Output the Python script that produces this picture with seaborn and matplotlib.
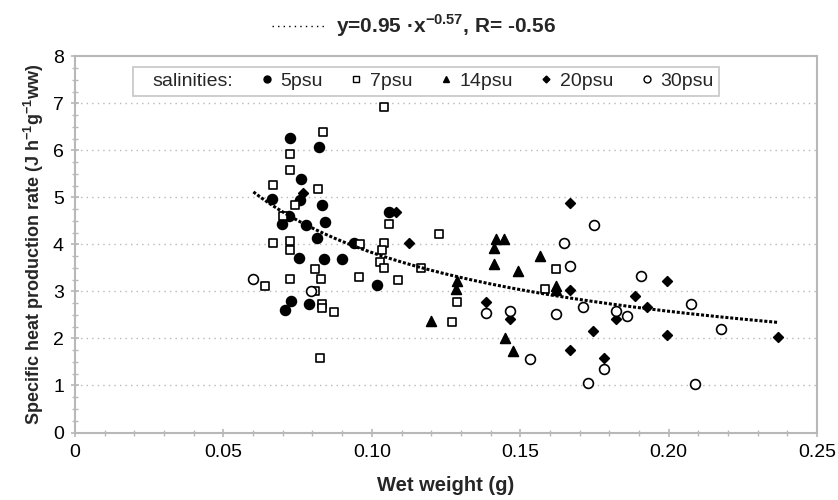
import numpy as np
import pandas as pd
import matplotlib
matplotlib.use("Agg")
import matplotlib.pyplot as plt
from matplotlib.lines import Line2D
from matplotlib.ticker import MultipleLocator
import seaborn as sns

# wet weight (g) and specific heat production rate (J h-1 g-1 ww), per salinity
w_5psu = [0.0725, 0.0823, 0.0762, 0.0663, 0.0758, 0.0831, 0.0722, 0.0698, 0.0779,
          0.0843, 0.1058, 0.0816, 0.0940, 0.0756, 0.0840, 0.0900, 0.1018, 0.0727,
          0.0709, 0.0788]
r_5psu = [6.26, 6.07, 5.40, 4.96, 4.94, 4.83, 4.61, 4.44, 4.41,
          4.47, 4.68, 4.13, 4.03, 3.72, 3.68, 3.68, 3.13, 2.80,
          2.60, 2.74]

w_7psu = [0.1041, 0.0834, 0.0725, 0.0725, 0.0666, 0.0820, 0.0741, 0.0702, 0.1057,
          0.1226, 0.0668, 0.0725, 0.0725, 0.0961, 0.1042, 0.1034, 0.1026, 0.1042,
          0.0807, 0.1165, 0.0725, 0.0828, 0.0958, 0.1089, 0.0809, 0.0831, 0.0831,
          0.0873, 0.1287, 0.1271, 0.0827, 0.0641, 0.1622, 0.1583]
r_7psu = [6.92, 6.38, 5.93, 5.58, 5.27, 5.17, 4.83, 4.61, 4.44,
          4.21, 4.02, 4.07, 3.89, 4.00, 4.02, 3.89, 3.62, 3.49,
          3.48, 3.50, 3.27, 3.27, 3.30, 3.24, 3.00, 2.74, 2.64,
          2.56, 2.77, 2.35, 1.59, 3.12, 3.48, 3.05]

w_14psu = [0.1286, 0.1282, 0.1199, 0.1418, 0.1447, 0.1413, 0.1410, 0.1568, 0.1494,
           0.1622, 0.1622, 0.1449, 0.1475]
r_14psu = [3.22, 3.05, 2.37, 4.12, 4.12, 3.93, 3.58, 3.75, 3.43,
           3.12, 3.03, 2.00, 1.73]

w_20psu = [0.0769, 0.1082, 0.1125, 0.1668, 0.1669, 0.1888, 0.1927, 0.1383, 0.1467,
           0.1821, 0.1744, 0.1669, 0.1783, 0.1993, 0.1993, 0.2368]
r_20psu = [5.09, 4.68, 4.02, 4.89, 3.03, 2.90, 2.66, 2.77, 2.42,
           2.42, 2.16, 1.76, 1.59, 3.23, 2.07, 2.02]

w_30psu = [0.0601, 0.0795, 0.1648, 0.1750, 0.1667, 0.1907, 0.1383, 0.1464, 0.1619,
           0.1710, 0.1822, 0.1859, 0.1533, 0.1783, 0.1730, 0.2075, 0.2178, 0.2090]
r_30psu = [3.26, 3.00, 4.03, 4.41, 3.55, 3.32, 2.54, 2.59, 2.52,
           2.66, 2.58, 2.47, 1.57, 1.34, 1.05, 2.73, 2.21, 1.04]

salinities = ["5psu", "7psu", "14psu", "20psu", "30psu"]

# power fit drawn on the chart (y = a * x^b)
FIT_A = 1.03
FIT_B = -0.57
fit_label = "y=0.95 ·x$^{\\mathbf{-0.57}}$, R= -0.56"

groups = {
    "5psu": (w_5psu, r_5psu),
    "7psu": (w_7psu, r_7psu),
    "14psu": (w_14psu, r_14psu),
    "20psu": (w_20psu, r_20psu),
    "30psu": (w_30psu, r_30psu),
}
df = pd.concat(
    [pd.DataFrame({"weight": w, "rate": r, "salinity": s}) for s, (w, r) in groups.items()],
    ignore_index=True,
)

marker_style = {
    "5psu":  dict(marker="o", facecolor="black", s=50),
    "7psu":  dict(marker="s", facecolor="white", s=40),
    "14psu": dict(marker="^", facecolor="black", s=50),
    "20psu": dict(marker="D", facecolor="black", s=24),
    "30psu": dict(marker="o", facecolor="white", s=50),
}

sns.set_theme(style="white")
plt.rcParams["font.family"] = ["Liberation Sans", "DejaVu Sans"]
plt.rcParams["mathtext.fontset"] = "custom"
plt.rcParams["mathtext.rm"] = "Liberation Sans"
plt.rcParams["mathtext.bf"] = "Liberation Sans:bold"

fig = plt.figure(figsize=(8.38, 5.0), dpi=100)
ax = fig.add_axes([0.0895, 0.135, 0.8855, 0.7525])

grid_col = "#b8b8b8"
for y in range(1, 8):
    ax.axhline(y, color=grid_col, linestyle=(0, (1, 3)), linewidth=1.0, zorder=0)

for sal in salinities:
    sub = df[df["salinity"] == sal]
    st = marker_style[sal]
    sns.scatterplot(data=sub, x="weight", y="rate", ax=ax, marker=st["marker"],
                    s=st["s"], color=st["facecolor"], edgecolor="black",
                    linewidth=1.2, zorder=3, legend=False)

xs = np.linspace(df["weight"].min(), df["weight"].max(), 200)
ax.plot(xs, FIT_A * xs ** FIT_B, color="black", linestyle=(0, (1, 0.6)),
        linewidth=2.2, zorder=4)

ax.set_xlim(0, 0.25)
ax.set_ylim(0, 8)
ax.xaxis.set_major_locator(MultipleLocator(0.05))
ax.xaxis.set_minor_locator(MultipleLocator(0.01))
ax.yaxis.set_major_locator(MultipleLocator(1))
ax.yaxis.set_minor_locator(MultipleLocator(0.25))
ax.set_xticklabels(["0" if t == 0 else f"{t:.2f}" for t in ax.get_xticks()])

for sp in ax.spines.values():
    sp.set_color(grid_col)
    sp.set_linewidth(1.5)
ax.tick_params(axis="both", which="both", direction="inout", color=grid_col,
               labelsize=14, labelcolor="black")
ax.tick_params(axis="both", which="major", length=6, width=1.2, pad=5)
ax.tick_params(axis="both", which="minor", length=5, width=1.0)
ax.tick_params(axis="x", which="both", bottom=True)
ax.tick_params(axis="y", which="both", left=True)

ax.set_xlabel("Wet weight (g)", fontsize=14.5, fontweight="bold", labelpad=11)
ax.set_ylabel("Specific heat production rate (J h$^{\\mathbf{-1}}$g$^{\\mathbf{-1}}$ww)",
              fontsize=13, fontweight="bold", labelpad=5)

# salinity legend
handles = [Line2D([], [], linestyle="none", marker="")]
labels = ["salinities:"]
for sal in salinities:
    st = marker_style[sal]
    handles.append(Line2D([], [], linestyle="none", marker=st["marker"],
                          markerfacecolor=st["facecolor"], markeredgecolor="black",
                          markersize=5 if st["marker"] != "D" else 3.5, markeredgewidth=1.0))
    labels.append(sal)
leg = ax.legend(handles, labels, ncol=6, loc="upper left", bbox_to_anchor=(0.078, 0.972),
                fontsize=14, frameon=True, fancybox=False, borderpad=0.3,
                handlelength=0, handletextpad=0.7, columnspacing=1.72, borderaxespad=0)
leg.get_frame().set_edgecolor(grid_col)
leg.get_frame().set_linewidth(1.2)

# fit line caption above the plot
fit_handle = Line2D([], [], color="black", linestyle=(0, (1, 3)), linewidth=1.0)
fig.legend([fit_handle], [fit_label], loc="center", bbox_to_anchor=(0.494, 0.948),
           frameon=False, handlelength=2.6, handletextpad=0.45,
           prop={"weight": "bold", "size": 15})

fig.savefig("out.png", dpi=100)
